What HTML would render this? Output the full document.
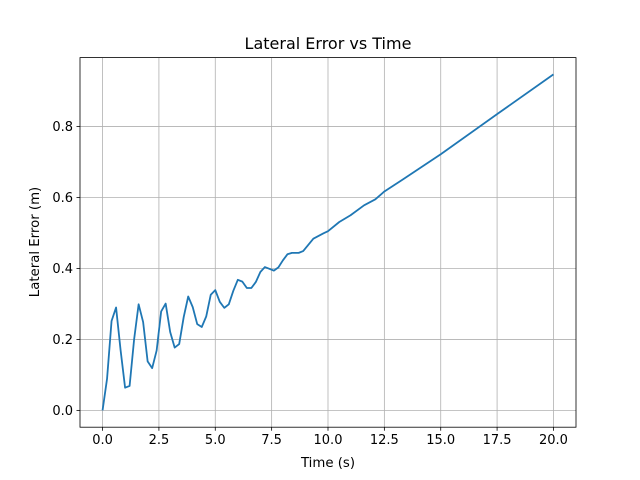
<!DOCTYPE html>
<html><head><meta charset="utf-8"><style>
body{margin:0;background:#fff;}
svg{display:block;font-family:"DejaVu Sans","Liberation Sans",sans-serif;}
</style></head><body>
<svg id="chart" width="640" height="480">
<rect width="640" height="480" fill="#fff"/>
<g id="grid"></g>
<g id="ticks"></g>
<polyline id="line" fill="none" stroke="#1f77b4" stroke-width="1.8" stroke-linejoin="round"/>
<rect x="80" y="57.6" width="496" height="369.6" fill="none" stroke="#000" stroke-width="0.8"/>
<text x="328" y="49" text-anchor="middle" font-size="16">Lateral Error vs Time</text>
<text x="328" y="467" text-anchor="middle" font-size="13.3">Time (s)</text>
<text transform="translate(39,242) rotate(-90)" text-anchor="middle" font-size="13.3">Lateral Error (m)</text>
</svg>
<script>
const times=[0,0.2,0.4,0.6,0.8,1.0,1.2,1.4,1.6,1.8,2.0,2.2,2.4,2.6,2.8,3.0,3.2,3.4,3.6,3.8,4.0,4.2,4.4,4.6,4.8,5.0,5.2,5.4,5.6,5.8,6.0,6.2,6.4,6.6,6.8,7.0,7.2,7.4,7.6,7.8,8.0,8.2,8.4,8.7,8.9,9.35,9.8,10.0,10.5,11.0,11.6,12.1,12.5,13.3,15.0,17.5,20.0];
const errors=[0,0.089,0.252,0.29,0.17,0.064,0.069,0.2,0.299,0.249,0.138,0.119,0.169,0.279,0.301,0.221,0.177,0.187,0.263,0.321,0.291,0.243,0.235,0.265,0.326,0.339,0.306,0.289,0.299,0.337,0.368,0.363,0.345,0.345,0.362,0.39,0.404,0.399,0.394,0.403,0.423,0.44,0.444,0.444,0.449,0.484,0.499,0.505,0.531,0.55,0.578,0.595,0.617,0.65,0.722,0.835,0.947];
const xTicks=[0,2.5,5,7.5,10,12.5,15,17.5,20];
const xTickLabels=["0.0","2.5","5.0","7.5","10.0","12.5","15.0","17.5","20.0"];
const yTicks=[0,0.2,0.4,0.6,0.8];
const yTickLabels=["0.0","0.2","0.4","0.6","0.8"];
const NS="http://www.w3.org/2000/svg";
const L=80,R=576,T=57.6,B=427.2,xmin=-1,xmax=21,ymin=-0.0474,ymax=0.9944;
const X=v=>L+(v-xmin)/(xmax-xmin)*(R-L);
const Y=v=>B-(v-ymin)/(ymax-ymin)*(B-T);
const grid=document.getElementById('grid'),ticks=document.getElementById('ticks');
function mk(tag,attrs,parent){const e=document.createElementNS(NS,tag);for(const k in attrs)e.setAttribute(k,attrs[k]);parent.appendChild(e);return e;}
xTicks.forEach((t,i)=>{const x=X(t);
 const g=mk('line',{x1:x,x2:x,y1:T,y2:B,stroke:'#b0b0b0','stroke-width':0.8},grid);
 
 
 mk('line',{x1:x,x2:x,y1:B,y2:B+3.5,stroke:'#000','stroke-width':0.8},ticks);
 const tx=mk('text',{x:x,y:B+17,'text-anchor':'middle','font-size':13},ticks);
 tx.textContent=xTickLabels[i];
 
 
});
yTicks.forEach((v,i)=>{const y=Y(v);
 const g=mk('line',{x1:L,x2:R,y1:y,y2:y,stroke:'#b0b0b0','stroke-width':0.8},grid);
 
 
 mk('line',{x1:L-3.5,x2:L,y1:y,y2:y,stroke:'#000','stroke-width':0.8},ticks);
 const tx=mk('text',{x:L-7,y:y+4.5,'text-anchor':'end','font-size':13},ticks);
 tx.textContent=yTickLabels[i];
 
 
});
document.getElementById('line').setAttribute('points',times.map((t,i)=>X(t).toFixed(2)+','+Y(errors[i]).toFixed(2)).join(' '));
</script>
</body></html>
